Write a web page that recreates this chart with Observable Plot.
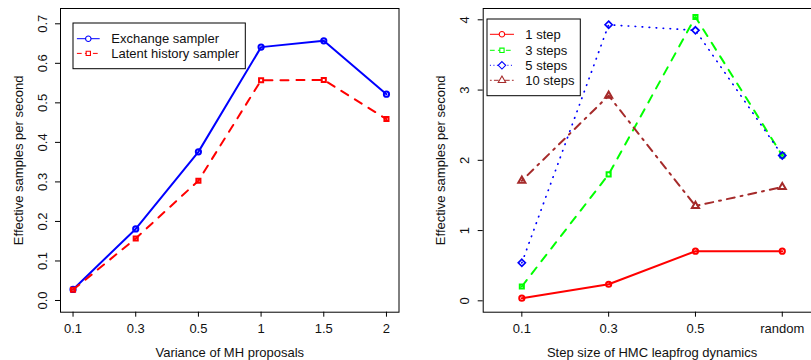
<!DOCTYPE html>
<html><head><meta charset="utf-8">
<script src="https://cdn.jsdelivr.net/npm/d3@7"></script>
<script src="https://cdn.jsdelivr.net/npm/@observablehq/plot@0.6"></script>
<style>
html,body{margin:0;padding:0;background:#fff;overflow:hidden}
#wrap{position:relative;width:811px;height:360px;overflow:hidden;background:#fff;font-family:"Liberation Sans",Arial,Helvetica,sans-serif}
.panel{position:absolute;top:0}
.panel svg{max-width:none;display:block}
.legend{position:absolute;display:block}
</style></head><body><div id="wrap"></div>
<script>
// ---- data ----
const leftCats = ["0.1", "0.3", "0.5", "1", "1.5", "2"];
const exchange = [0.028, 0.181, 0.376, 0.641, 0.657, 0.522];
const latent = [0.027, 0.157, 0.303, 0.557, 0.558, 0.459];
const leftYTicks = [0, 0.1, 0.2, 0.3, 0.4, 0.5, 0.6, 0.7];

const rightCats = ["0.1", "0.3", "0.5", "random"];
const step1 = [0.037, 0.236, 0.706, 0.706];
const step3 = [0.204, 1.80, 4.04, 2.07];
const step5 = [0.541, 3.93, 3.85, 2.07];
const step10 = [1.71, 2.92, 1.35, 1.62];
const rightYTicks = [0, 1, 2, 3, 4];

const yTitle = "Effective samples per second";
const leftXTitle = "Variance of MH proposals";
const rightXTitle = "Step size of HMC leapfrog dynamics";

const leftSeries = [
  {name: "Exchange sampler", values: exchange, color: "#0000FF", dash: null, symbol: "circle", r: 2.6},
  {name: "Latent history sampler", values: latent, color: "#FF0000", dash: "8,8", symbol: "square2", r: 2.6}
];
const rightSeries = [
  {name: "1 step", values: step1, color: "#FF0000", dash: null, symbol: "circle", r: 2.6, w: 2},
  {name: "3 steps", values: step3, color: "#00FF00", dash: "8,8", symbol: "square2", r: 2.6, w: 2},
  {name: "5 steps", values: step5, color: "#0000FF", dash: "0.5,6.5", symbol: "diamond2", r: 3.2, w: 1.7},
  {name: "10 steps", values: step10, color: "#A52A2A", dash: "2,6,8,6", symbol: "triangle2", r: 3.4, w: 2}
];

const FONT = '"Liberation Sans", Arial, Helvetica, sans-serif';

function panel(o) {
  const marks = [
    Plot.axisX({tickSize: 5, tickFormat: () => "", label: null, stroke: "black"}),
    Plot.axisY(o.yTicks, {tickSize: 5, tickFormat: () => "", label: null, stroke: "black"}),
    Plot.frame({stroke: "black", strokeWidth: 1}),
    Plot.text(o.cats, {x: d => d, text: d => d, frameAnchor: "bottom", dy: 16.8, lineAnchor: "middle", fill: "#111"}),
    Plot.text(o.yTicks, {y: d => d, text: o.yFmt, frameAnchor: "left", dx: o.yTickDx, rotate: -90, textAnchor: "middle", lineAnchor: "middle", fill: "#111"}),
    Plot.text([o.xTitle], {text: d => d, frameAnchor: "bottom", dy: 41, lineAnchor: "middle", fill: "#111"}),
    Plot.text([yTitle], {text: d => d, frameAnchor: "left", dx: o.yTitleDx, rotate: -90, textAnchor: "middle", lineAnchor: "middle", fill: "#111"})
  ];
  for (const s of o.series) {
    const data = o.cats.map((c, i) => ({c, v: s.values[i]}));
    marks.push(Plot.line(data, {x: "c", y: "v", stroke: s.color, strokeWidth: s.w || 2, strokeDasharray: s.dash || undefined}));
    marks.push(Plot.dot(data, {x: "c", y: "v", symbol: s.symbol, stroke: s.color, fill: "none", r: s.r, strokeWidth: s.w || 2}));
  }
  return Plot.plot({
    width: o.width, height: 360,
    marginLeft: o.marginLeft, marginRight: o.marginRight, marginTop: 8, marginBottom: 48.3,
    style: {fontFamily: FONT, fontSize: "13px", background: "transparent", color: "black", overflow: "visible"},
    x: {type: "point", domain: o.cats, padding: o.padding, round: false},
    y: {domain: o.yDomain},
    marks
  });
}

const wrap = document.getElementById("wrap");

function addPanel(left, svg) {
  const d = document.createElement("div");
  d.className = "panel";
  d.style.left = left + "px";
  d.appendChild(svg);
  wrap.appendChild(d);
}

addPanel(0, panel({
  cats: leftCats, series: leftSeries, yDomain: [-0.0296, 0.7387], yTicks: leftYTicks,
  yFmt: d => d.toFixed(1), width: 405, marginLeft: 60, marginRight: 6.5, padding: 0.2,
  xTitle: leftXTitle, yTickDx: -17.3, yTitleDx: -42
}));
addPanel(405, panel({
  cats: rightCats, series: rightSeries, yDomain: [-0.162, 4.161], yTicks: rightYTicks,
  yFmt: d => String(d), width: 420, marginLeft: 77.7, marginRight: 4.6, padding: 0.445,
  xTitle: rightXTitle, yTickDx: -18.4, yTitleDx: -42.7
}));

// ---- legends ----
const symbolMap = {circle: d3.symbolCircle, square2: d3.symbolSquare2, diamond2: d3.symbolDiamond2, triangle2: d3.symbolTriangle2};
function legend(L) {
  const svg = d3.create("svg").attr("class", "legend")
    .attr("width", L.width + 2).attr("height", L.height + 2)
    .style("left", (L.left - 1) + "px").style("top", (L.top - 1) + "px");
  svg.append("rect").attr("x", 1).attr("y", 1).attr("width", L.width).attr("height", L.height)
    .attr("fill", "white").attr("stroke", "black").attr("stroke-width", 1);
  L.series.forEach((s, i) => {
    const y = 1 + L.rows[i];
    svg.append("line").attr("x1", 1 + L.x0).attr("x2", 1 + L.x1).attr("y1", y).attr("y2", y)
      .attr("stroke", s.color).attr("stroke-width", 1).attr("stroke-dasharray", s.dash ? s.dash.split(",").map(v => v / 2).join(",") : null)
      .attr("stroke-linecap", "round");
    const cx = 1 + (L.x0 + L.x1) / 2;
    svg.append("path").attr("d", d3.symbol(symbolMap[s.symbol], Math.PI * s.r * s.r * 1.1)())
      .attr("transform", `translate(${cx},${y})`).attr("fill", "white").attr("stroke", s.color).attr("stroke-width", 1.1);
    svg.append("text").attr("x", 1 + L.tx).attr("y", y).attr("dy", "0.35em")
      .attr("font-family", FONT).attr("font-size", 13).attr("fill", "#111").text(s.name);
  });
  wrap.appendChild(svg.node());
}
legend({left: 72.7, top: 23.3, width: 172.3, height: 45.7, rows: [15.7, 30.4], x0: 4.3, x1: 26.3, tx: 38.3, series: leftSeries});
legend({left: 486.7, top: 19, width: 93.3, height: 76.7, rows: [15.3, 31.3, 46.3, 61.3], x0: 3.3, x1: 26.6, tx: 38.3, series: rightSeries});
</script>
</body></html>
